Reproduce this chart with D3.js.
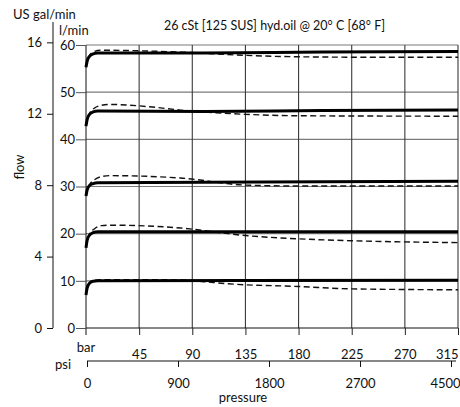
<!DOCTYPE html>
<html>
<head>
<meta charset="utf-8">
<script src="https://cdn.jsdelivr.net/npm/d3@7"></script>
<style>
  body { margin: 0; background: #fff; }
  text { font-family: Lato, "Open Sans", sans-serif; fill: #111; }
</style>
</head>
<body>
<div id="chart"></div>
<script>
// flow curves, [pressure bar, flow l/min]
const solid60 = [[0,55.3],[1,56.6],[3,57.6],[6,58.1],[10,58.3],[100,58.3],[200,58.5],[315,58.6]]
const dashed60 = [[0,55.3],[1,56.6],[3,57.8],[6,58.5],[12,58.9],[40,58.8],[80,58.5],[135,57.8],[180,57.5],[250,57.4],[315,57.4]]
const solid45 = [[0,42.8],[1,44.2],[3,45.3],[6,45.8],[10,46.0],[100,45.9],[200,46.1],[315,46.2]]
const dashed45 = [[0,42.8],[1,44.2],[3,45.5],[7,46.6],[13,47.2],[20,47.4],[54,46.9],[80,46.2],[135,45.3],[180,45.0],[315,44.9]]
const solid30 = [[0,28.0],[1,29.3],[3,30.2],[6,30.6],[10,30.8],[100,30.9],[200,31.0],[315,31.1]]
const dashed30 = [[0,28.0],[1,29.3],[3,30.4],[7,31.4],[13,32.1],[20,32.3],[80,31.8],[135,30.3],[180,30.1],[315,30.1]]
const solid20 = [[0,17.0],[1,18.6],[3,19.7],[6,20.2],[10,20.4],[315,20.4]]
const dashed20 = [[0,17.0],[1,18.6],[3,19.9],[7,21.0],[13,21.7],[20,21.8],[80,21.2],[135,19.6],[180,18.9],[225,18.5],[315,18.1]]
const solid10 = [[0,7.0],[1,8.5],[3,9.5],[6,9.9],[10,10.0],[315,10.1]]
const dashed10 = [[0,7.0],[1,8.5],[3,9.6],[7,10.1],[15,10.25],[80,10.2],[100,9.8],[125,9.3],[180,8.8],[225,8.3],[315,8.1]]

const solidCurves = [solid60, solid45, solid30, solid20, solid10]
const dashedCurves = [dashed60, dashed45, dashed30, dashed20, dashed10]

const barTicks = [45, 90, 135, 180, 225, 270, 315]
const lpmTicks = [0, 10, 20, 30, 40, 50, 60]
const galTicks = [0, 4, 8, 12, 16]
const psiLabels = ['0', '900', '1800', '2700', '4500']

const title = '26 cSt [125 SUS] hyd.oil @ 20° C [68° F]'
const LPM_PER_GAL = 3.785

const width = 460
const height = 407

const svg = d3.select('#chart')
    .append('svg')
    .attr('width', width)
    .attr('height', height)

const x = d3.scaleLinear().domain([0, 315]).range([86, 458])
const y = d3.scaleLinear().domain([0, 60]).range([328, 45])
const yGal = d3.scaleLinear().domain([0, 16]).range([y(0), y(16 * LPM_PER_GAL)])
const xPsi = d3.scalePoint().domain(psiLabels).range([87, 451])

// grid
const grid = svg.append('g').attr('class', 'grid')
grid.selectAll('line.h')
    .data(lpmTicks.slice(1))
    .join('line')
    .attr('class', 'h')
    .attr('x1', x(0)).attr('x2', x(315))
    .attr('y1', d => y(d)).attr('y2', d => y(d))
    .attr('stroke', '#7a7a7a')
    .attr('stroke-width', 1.1)
grid.selectAll('line.v')
    .data(barTicks)
    .join('line')
    .attr('class', 'v')
    .attr('x1', d => x(d)).attr('x2', d => x(d))
    .attr('y1', y(60)).attr('y2', y(0))
    .attr('stroke', '#3a3a3a')
    .attr('stroke-width', 1.1)

// l/min axis (inner)
const lpmAxis = svg.append('g')
    .attr('transform', `translate(${x(0)},0)`)
    .call(d3.axisLeft(y).tickValues(lpmTicks).tickSize(10).tickPadding(1))
lpmAxis.select('.domain').attr('stroke', '#111').attr('d', `M0,${y(60)}V${y(0) + 7}`)
lpmAxis.selectAll('.tick line').attr('stroke', '#555')
lpmAxis.selectAll('.tick text').attr('font-size', 13).attr('font-family', 'Lato').attr('fill', '#111')

// bar axis
const barAxis = svg.append('g')
    .attr('transform', `translate(0,${y(0)})`)
    .call(d3.axisBottom(x).tickValues(barTicks).tickSize(7).tickPadding(15))
barAxis.select('.domain').attr('stroke', '#111').attr('d', `M${x(0)},0H${x(315)}`)
barAxis.selectAll('.tick line').attr('stroke', '#222')
barAxis.selectAll('.tick text').attr('font-size', 13).attr('font-family', 'Lato').attr('fill', '#111')
// last label sits inside the frame
barAxis.selectAll('.tick text').filter(d => d === 315)
    .attr('text-anchor', 'end').attr('x', 0)

svg.append('text')
    .attr('x', x(0)).attr('y', 352)
    .attr('text-anchor', 'middle')
    .attr('font-size', 13)
    .text('bar')

// gal axis (outer)
const galAxis = svg.append('g')
    .attr('transform', 'translate(53,0)')
    .call(d3.axisLeft(yGal).tickValues(galTicks).tickSize(6).tickPadding(5))
galAxis.select('.domain').attr('stroke', '#111').attr('d', `M0,22V${y(0)}`)
galAxis.selectAll('.tick line').attr('stroke', '#111')
galAxis.selectAll('.tick text').attr('font-size', 13).attr('font-family', 'Lato').attr('fill', '#111')

// psi axis
const psiAxis = svg.append('g')
    .attr('transform', 'translate(0,361)')
    .call(d3.axisBottom(xPsi).tickSize(6).tickPadding(12))
psiAxis.select('.domain').attr('stroke', '#111').attr('d', `M${xPsi('0')},0H456`)
psiAxis.selectAll('.tick line').attr('stroke', '#111')
psiAxis.selectAll('.tick text').attr('font-size', 13).attr('font-family', 'Lato').attr('fill', '#111')
psiAxis.selectAll('.tick text').filter(d => d === '4500')
    .attr('text-anchor', 'start').attr('x', -21)

svg.append('text').attr('x', 55).attr('y', 369).attr('font-size', 13).text('psi')
svg.append('text').attr('x', 243).attr('y', 402).attr('text-anchor', 'middle').attr('font-size', 13).text('pressure')

// labels
svg.append('text').attr('x', 13).attr('y', 19).attr('font-size', 13).text('US gal/min')
svg.append('text').attr('x', 59).attr('y', 35).attr('font-size', 13).text('l/min')
svg.append('text').attr('x', 274.5).attr('y', 30).attr('text-anchor', 'middle').attr('font-size', 12.5).text(title)
svg.append('text')
    .attr('transform', 'translate(24,167) rotate(-90)')
    .attr('text-anchor', 'middle')
    .attr('font-size', 13)
    .text('flow')

// curves
const line = d3.line()
    .x(d => x(d[0]))
    .y(d => y(d[1]))
    .curve(d3.curveMonotoneX)

svg.append('g').attr('class', 'dashed')
    .selectAll('path')
    .data(dashedCurves)
    .join('path')
    .attr('d', line)
    .attr('fill', 'none')
    .attr('stroke', '#111')
    .attr('stroke-width', 1.4)
    .attr('stroke-dasharray', '6,3.5')

svg.append('g').attr('class', 'solid')
    .selectAll('path')
    .data(solidCurves)
    .join('path')
    .attr('d', line)
    .attr('fill', 'none')
    .attr('stroke', '#000')
    .attr('stroke-width', 3)
</script>
</body>
</html>
